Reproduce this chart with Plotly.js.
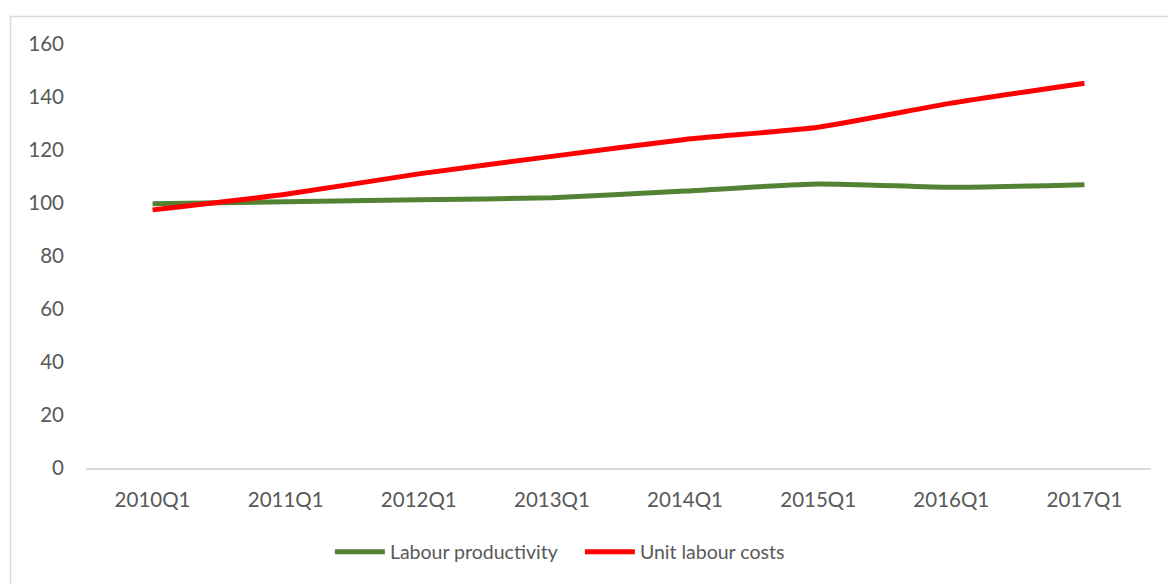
<!DOCTYPE html>
<html>
<head>
<meta charset="utf-8">
<script src="https://cdn.plot.ly/plotly-3.0.1.min.js"></script>
<style>
  html, body { margin: 0; padding: 0; background: #ffffff; }
  #chart { width: 1168px; height: 584px; }
</style>
</head>
<body>
<div id="chart"></div>
<script>
const quarters = ["2010Q1", "2011Q1", "2012Q1", "2013Q1", "2014Q1", "2015Q1", "2016Q1", "2017Q1"];
const labourProductivity = [99.7, 100.5, 101.2, 102.0, 104.5, 107.2, 105.9, 106.9];
const unitLabourCosts = [97.4, 103.3, 111.0, 117.6, 124.0, 128.6, 137.7, 145.2];
const yTicks = [0, 20, 40, 60, 80, 100, 120, 140, 160];

const FONT = 'Lato, "Open Sans", sans-serif';
const TEXT = '#595959';

const traces = [
  {
    x: quarters, y: labourProductivity, name: 'Labour productivity',
    type: 'scatter', mode: 'lines',
    line: { color: '#548235', width: 5, shape: 'spline', smoothing: 0.5 },
    hoverinfo: 'x+y+name'
  },
  {
    x: quarters, y: unitLabourCosts, name: 'Unit labour costs',
    type: 'scatter', mode: 'lines',
    line: { color: '#FF0000', width: 5, shape: 'spline', smoothing: 0.5 },
    hoverinfo: 'x+y+name'
  }
];

const layout = {
  width: 1168, height: 584,
  margin: { l: 86, r: 17, t: 44, b: 116, pad: 0 },
  paper_bgcolor: '#ffffff', plot_bgcolor: '#ffffff',
  font: { family: FONT, size: 20.5, color: TEXT },
  showlegend: true,
  legend: {
    orientation: 'h', x: 0.229, xanchor: 'left', y: -0.198, yanchor: 'middle',
    font: { family: FONT, size: 19.5, color: TEXT },
    itemwidth: 50, entrywidth: 185, entrywidthmode: 'pixels',
    tracegroupgap: 0, bgcolor: 'rgba(0,0,0,0)'
  },
  xaxis: {
    type: 'category', range: [-0.5, 7.5], fixedrange: true,
    showgrid: false, zeroline: false,
    showline: true, linecolor: '#d9d9d9', linewidth: 1.5,
    ticks: '', ticklabelstandoff: 13,
    tickfont: { family: FONT, size: 20.5, color: TEXT }
  },
  yaxis: {
    range: [0, 160], tickvals: yTicks, ticktext: yTicks.map(String), fixedrange: true,
    showgrid: false, zeroline: false, showline: false,
    ticks: '', ticklabelstandoff: 21,
    tickfont: { family: FONT, size: 20.5, color: TEXT }
  },
  shapes: [
    {
      type: 'rect', xref: 'paper', yref: 'paper', layer: 'below',
      x0: (10.5 - 86) / 1065, x1: 1.2,
      y0: -0.6, y1: (468 - 16.5) / 424,
      line: { color: '#d9d9d9', width: 1.5 }, fillcolor: 'rgba(0,0,0,0)'
    }
  ]
};

Plotly.newPlot('chart', traces, layout, { displayModeBar: false, responsive: false, staticPlot: false });
</script>
</body>
</html>
